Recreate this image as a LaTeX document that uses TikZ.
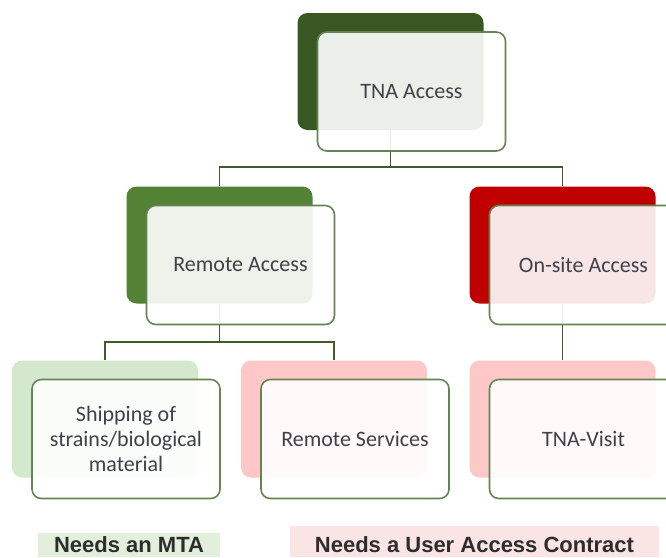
\documentclass[tikz,border=0pt]{standalone}
\usepackage{fontspec}
\setmainfont{Carlito}
\newfontfamily\labelfont{Liberation Sans}
\definecolor{topgreen}{RGB}{56,87,35}
\definecolor{midgreen}{RGB}{84,130,53}
\definecolor{topred}{RGB}{192,0,0}
\definecolor{palegreen}{RGB}{212,232,206}
\definecolor{palered}{RGB}{255,200,200}
\definecolor{frameline}{RGB}{100,132,84}
\definecolor{linkgreen}{RGB}{62,92,40}
\definecolor{boxtext}{RGB}{64,64,72}
\definecolor{mtabg}{RGB}{226,239,218}
\definecolor{uacbg}{RGB}{251,228,228}
\definecolor{labeltext}{RGB}{45,45,45}
\begin{document}
\begin{tikzpicture}[x=0.75pt,y=-0.75pt,
  back/.style={rectangle, rounded corners=7.5pt, minimum width=139.5pt,
    minimum height=87.75pt, inner sep=0pt, draw=none},
  front/.style={rectangle, rounded corners=7pt, minimum width=141pt,
    minimum height=89.25pt, inner sep=0pt, draw=frameline, line width=1.2pt,
    fill=white, fill opacity=0.9, draw opacity=1, text opacity=1,
    text=boxtext, align=center, font=\fontsize{16.5}{19}\selectfont},
  link/.style={draw=linkgreen, line width=1.1pt},
  notebg/.style={rectangle, inner sep=0pt, draw=none},
  notetext/.style={anchor=base, inner sep=0pt, text=labeltext,
    font=\labelfont\bfseries\fontsize{16.5}{20}\selectfont}]
\useasboundingbox (0,0) rectangle (666,557);
\clip (0,0) rectangle (666,557);

% coloured back plates
\node[back, fill=topgreen]  (tna)    at (390.5,71.5) {};
\node[back, fill=midgreen]  (remote) at (219.5,245) {};
\node[back, fill=topred]    (onsite) at (562.5,245) {};
\node[back, fill=palegreen] (ship)   at (105,419) {};
\node[back, fill=palered]   (serv)   at (334,419) {};
\node[back, fill=palered]   (visit)  at (562.5,419) {};

% tree connectors
\coordinate (bus1) at (0,167);
\coordinate (bus2) at (0,342);
\draw[link] (tna.south) -- (tna.south |- bus1);
\draw[link] (remote.north) -- (remote.north |- bus1) -- (onsite.north |- bus1) -- (onsite.north);
\draw[link] (remote.south) -- (remote.south |- bus2);
\draw[link] (ship.north) -- (ship.north |- bus2) -- (serv.north |- bus2) -- (serv.north);
\draw[link] (onsite.south) -- (visit.north);

% translucent text cards
\node[front] (tnaF)    at ([shift={(21,20)}]tna.center)    {TNA Access};
\node[front] (remoteF) at ([shift={(21,20)}]remote.center) {Remote Access};
\node[front] (onsiteF) at ([shift={(21,20)}]onsite.center) {On-site Access};
\node[front] (shipF)   at ([shift={(21,20)}]ship.center)   {Shipping of\\strains/biological\\material};
\node[front] (servF)   at ([shift={(21,20)}]serv.center)   {Remote Services};
\node[front] (visitF)  at ([shift={(21,20)}]visit.center)  {TNA-Visit};

% requirement notes
\node[notebg, fill=mtabg, minimum width=136.5pt, minimum height=18pt] (mtaBg) at (128.5,545) {};
\node[notebg, fill=uacbg, minimum width=276.75pt, minimum height=23.25pt] (uacBg) at (474.5,541.5) {};
\node[notetext] (mta) at (129,552) {Needs an MTA};
\node[notetext] (uac) at (474.5,552) {Needs a User Access Contract};
\end{tikzpicture}
\end{document}
